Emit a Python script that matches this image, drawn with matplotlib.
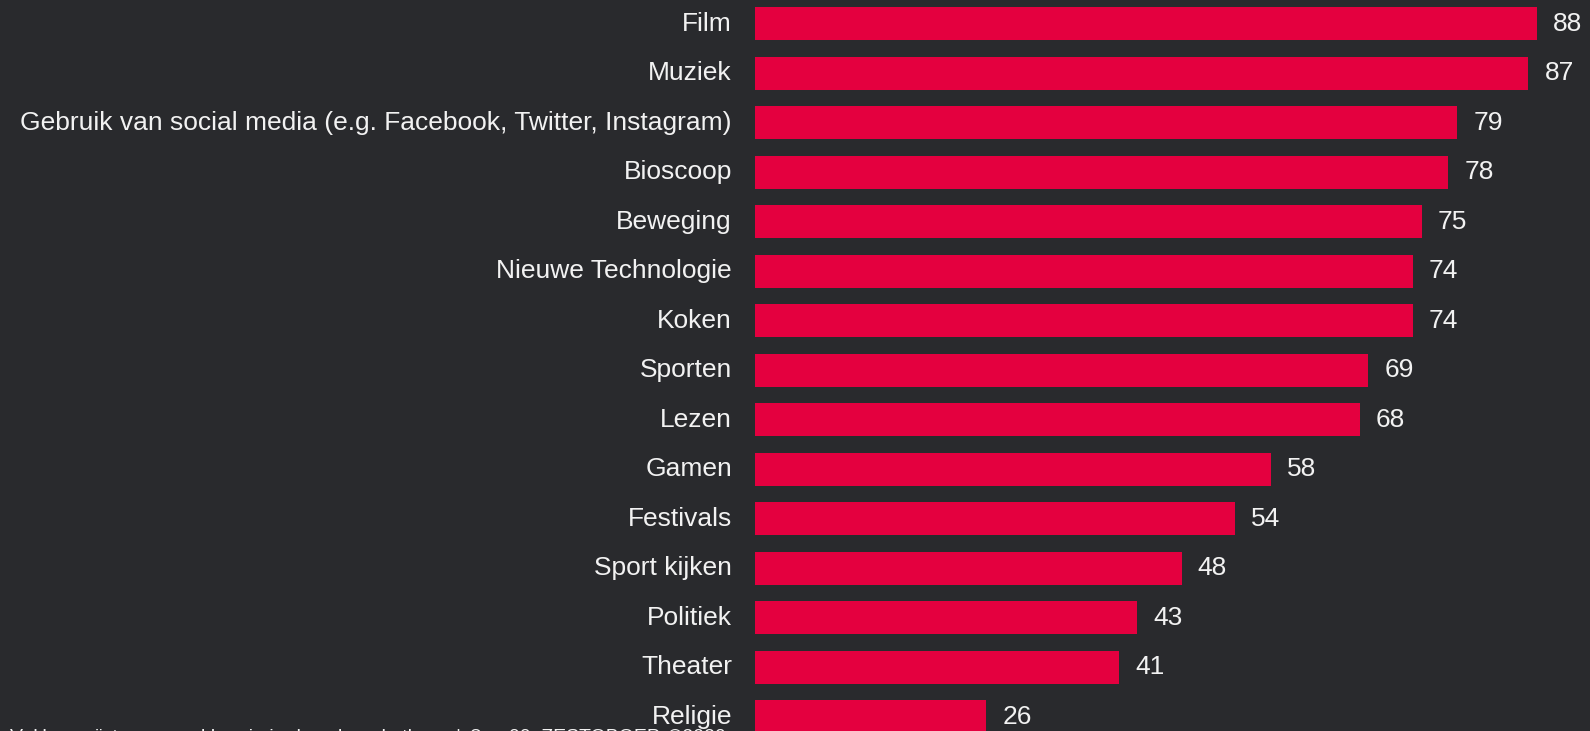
import matplotlib
matplotlib.use("Agg")
import matplotlib.pyplot as plt

categories = ["Film", "Muziek",
              "Gebruik van social media (e.g. Facebook, Twitter, Instagram)",
              "Bioscoop", "Beweging", "Nieuwe Technologie", "Koken", "Sporten",
              "Lezen", "Gamen", "Festivals", "Sport kijken", "Politiek",
              "Theater", "Religie"]
values = [88, 87, 79, 78, 75, 74, 74, 69, 68, 58, 54, 48, 43, 41, 26]
footnote = "V: Hoe geïnteresseerd ben je in de volgende thema's? n=00, ZESTOBOEP, ©2020"

bg = "#292a2d"
bar_color = "#e4003f"
text_color = "#f2f2f2"

plt.rcParams["font.family"] = ["Liberation Sans", "DejaVu Sans"]

fig = plt.figure(figsize=(15.9, 7.31), dpi=100, facecolor=bg)
left = 755 / 1590
ax = fig.add_axes([left, 0, 1 - left, 1])
ax.set_facecolor(bg)

pos = list(range(len(categories)))
ax.barh(pos, values, height=0.667, color=bar_color)

ax.set_xlim(0, (1590 - 755) / 8.89)
ax.set_ylim(14.29, -0.475)

for p, v in zip(pos, values):
    ax.annotate(str(v), (v, p), xytext=(16, 0), textcoords="offset pixels",
                va="center", ha="left", color=text_color, fontsize=19)
    ax.annotate(categories[p], (0, p), xytext=(-23, 0), textcoords="offset pixels",
                va="center", ha="right", color=text_color, fontsize=19,
                annotation_clip=False)

ax.set_xticks([])
ax.set_yticks([])
for s in ax.spines.values():
    s.set_visible(False)

# footnote sits mostly below the canvas, only its top shows
fig.text(10 / 1590, 1 - 729 / 731, footnote, color=text_color, fontsize=14,
         ha="left", va="top")

fig.savefig("out.png", dpi=100, facecolor=bg)
